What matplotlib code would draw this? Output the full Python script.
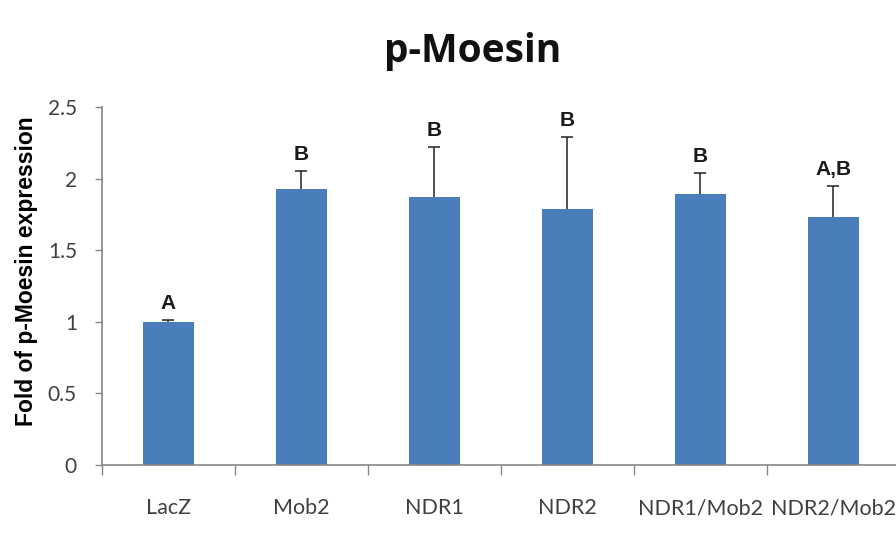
import matplotlib.pyplot as plt
import numpy as np

# p-Moesin fold expression per construct
groups = ['LacZ', 'Mob2', 'NDR1', 'NDR2', 'NDR1/Mob2', 'NDR2/Mob2']
fold = [1.00, 1.93, 1.87, 1.79, 1.89, 1.73]
sem = [0.01, 0.12, 0.35, 0.50, 0.15, 0.22]
letters = ['A', 'B', 'B', 'B', 'B', 'A,B']

fig = plt.figure(figsize=(8.96, 5.37), dpi=100)
ax = fig.add_axes([0.1138, 0.1341, 0.8906, 0.6667])

x = np.arange(len(groups))
ax.bar(x, fold, width=0.39, color='#4A7EBB', zorder=2)
# error bars sit behind the bars so only the upper half shows
ax.errorbar(x, fold, yerr=sem, fmt='none', ecolor='#222222',
            elinewidth=1.1, capsize=4.5, capthick=1.1, zorder=1)

for xi, v, e, lab in zip(x, fold, sem, letters):
    ax.annotate(lab, (xi, v + e), xytext=(0, 5), textcoords='offset points',
                ha='center', va='bottom', fontsize=15, fontweight='bold',
                family='Liberation Sans', color='#1a1a1a')

ax.set_xlim(-0.5, len(groups) - 0.5)
ax.set_ylim(0, 2.5)
ax.set_yticks([0, 0.5, 1, 1.5, 2, 2.5])
ax.set_yticklabels(['0', '0.5', '1', '1.5', '2', '2.5'])

# category labels sit between the boundary ticks
ax.set_xticks(np.arange(len(groups) + 1) - 0.5)
ax.set_xticklabels([])
ax.set_xticks(x, minor=True)
ax.set_xticklabels(groups, minor=True)
ax.tick_params(axis='x', which='minor', length=0, pad=24, labelsize=15.5,
               labelcolor='#404040')
ax.tick_params(axis='x', which='major', length=7, color='#868686', width=1)
ax.tick_params(axis='y', length=5, color='#868686', width=1, pad=13,
               labelsize=15, labelcolor='#404040')
for t in ax.get_xticklabels(minor=True) + ax.get_yticklabels():
    t.set_family('Lato')

for side in ['top', 'right']:
    ax.spines[side].set_visible(False)
for side in ['left', 'bottom']:
    ax.spines[side].set_color('#868686')
    ax.spines[side].set_linewidth(1.2)

ax.set_ylabel('Fold of p-Moesin expression', fontsize=16.5, fontweight='bold',
              family='Liberation Sans')
ax.yaxis.set_label_coords(-0.08, 0.542)
fig.text(0.528, 0.905, 'p-Moesin', ha='center', va='center', fontsize=28,
         fontweight='bold', family='Open Sans', color='#111111')

fig.savefig('out.png', dpi=100)
